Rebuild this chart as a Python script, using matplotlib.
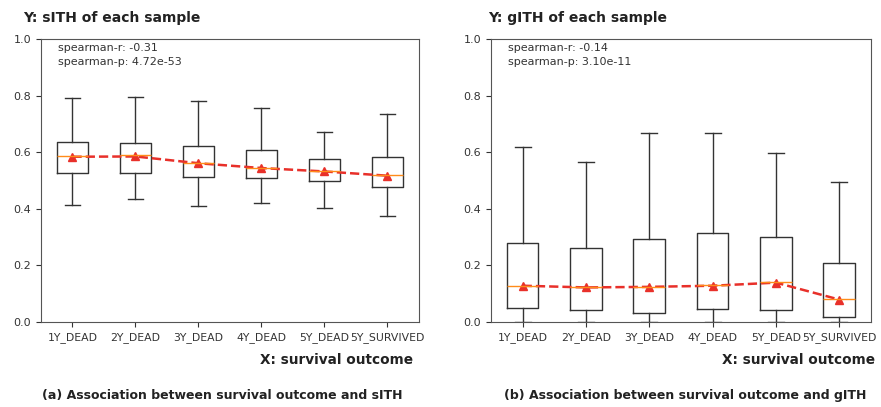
import matplotlib.pyplot as plt

plt.rcParams['font.family'] = ['DejaVu Sans']

groups = ['1Y_DEAD', '2Y_DEAD', '3Y_DEAD', '4Y_DEAD', '5Y_DEAD', '5Y_SURVIVED']

# sITH box stats
s_low = [0.413, 0.436, 0.411, 0.422, 0.403, 0.373]
s_q1 = [0.526, 0.526, 0.514, 0.510, 0.499, 0.477]
s_med = [0.587, 0.589, 0.562, 0.545, 0.535, 0.519]
s_q3 = [0.636, 0.634, 0.621, 0.609, 0.577, 0.583]
s_high = [0.791, 0.794, 0.781, 0.756, 0.670, 0.735]
s_mean = [0.584, 0.585, 0.561, 0.544, 0.532, 0.517]

# gITH box stats
g_low = [0.0, 0.0, 0.0, 0.0, 0.0, 0.0]
g_q1 = [0.049, 0.041, 0.031, 0.046, 0.041, 0.019]
g_med = [0.128, 0.125, 0.125, 0.130, 0.141, 0.080]
g_q3 = [0.280, 0.261, 0.294, 0.316, 0.302, 0.210]
g_high = [0.620, 0.567, 0.667, 0.667, 0.596, 0.496]
g_mean = [0.128, 0.122, 0.124, 0.128, 0.139, 0.079]

stats_text = [('-0.31', '4.72e-53'), ('-0.14', '3.10e-11')]


def draw_panel(ax, low, q1, med, q3, high, mean, r, p):
    stats = []
    for i in range(len(groups)):
        stats.append(dict(whislo=low[i], q1=q1[i], med=med[i], q3=q3[i],
                          whishi=high[i], mean=mean[i], fliers=[], label=groups[i]))
    ax.bxp(stats, showfliers=False,
           boxprops=dict(color='#333333'), whiskerprops=dict(color='#333333'),
           capprops=dict(color='#333333'), medianprops=dict(color='#ff8c1a'))
    ax.plot(range(1, len(groups) + 1), mean, '--^', color='#e8302a', lw=1.8, ms=6)
    ax.set_ylim(0, 1.0)
    ax.set_yticks([0, 0.2, 0.4, 0.6, 0.8, 1.0])
    ax.tick_params(axis='y', labelsize=8, colors='#333333')
    ax.tick_params(axis='x', labelsize=7.8, colors='#333333')
    ax.text(0.045, 0.985, 'spearman-r: ' + r, transform=ax.transAxes, fontsize=8, va='top', color='#333333')
    ax.text(0.045, 0.935, 'spearman-p: ' + p, transform=ax.transAxes, fontsize=8, va='top', color='#333333')
    for s in ax.spines.values():
        s.set_color('#555555')


fig = plt.figure(figsize=(8.81, 4.07), dpi=100)
ax1 = fig.add_axes([0.0465, 0.209, 0.429, 0.695])
ax2 = fig.add_axes([0.5573, 0.209, 0.4313, 0.695])

draw_panel(ax1, s_low, s_q1, s_med, s_q3, s_high, s_mean, *stats_text[0])
draw_panel(ax2, g_low, g_q1, g_med, g_q3, g_high, g_mean, *stats_text[1])

fig.text(23 / 881, 1 - 18 / 407, 'Y: sITH of each sample', fontsize=10, fontweight='bold', va='center', color='#222222')
fig.text(488 / 881, 1 - 18 / 407, 'Y: gITH of each sample', fontsize=10, fontweight='bold', va='center', color='#222222')
fig.text(413 / 881, 1 - 360 / 407, 'X: survival outcome', fontsize=9.8, fontweight='bold', va='center', ha='right', color='#222222')
fig.text(875 / 881, 1 - 360 / 407, 'X: survival outcome', fontsize=9.8, fontweight='bold', va='center', ha='right', color='#222222')
fig.text(222 / 881, 1 - 395 / 407, '(a) Association between survival outcome and sITH', fontsize=9, fontweight='bold', va='center', ha='center', color='#222222')
fig.text(685 / 881, 1 - 395 / 407, '(b) Association between survival outcome and gITH', fontsize=9, fontweight='bold', va='center', ha='center', color='#222222')

fig.savefig('out.png', dpi=100)
